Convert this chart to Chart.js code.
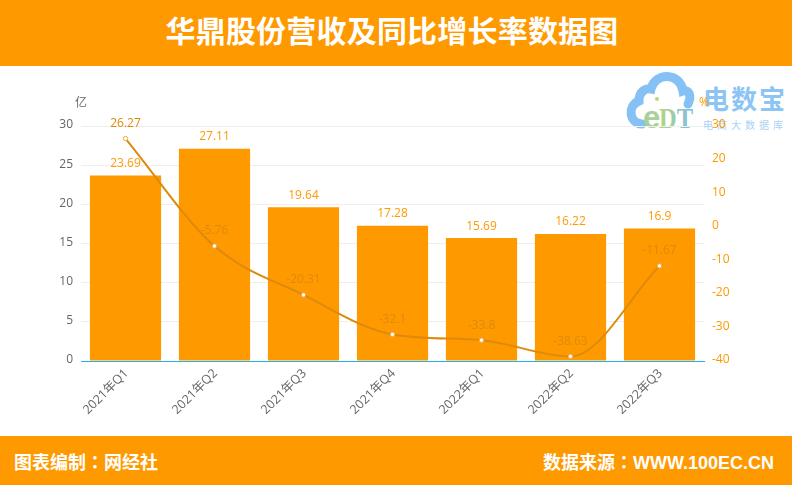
<!DOCTYPE html>
<html lang="zh-CN">
  <head>
    <meta charset="UTF-8" />
    <title>华鼎股份营收及同比增长率数据图</title>
    <script src="https://cdn.jsdelivr.net/npm/chart.js"></script>
    <style>
      html, body { margin: 0; padding: 0; background: #fff; }
      body { width: 792px; height: 485px; position: relative; overflow: hidden;
             font-family: "Liberation Sans", "Noto Sans CJK SC", sans-serif; }
      .band { position: absolute; left: 0; width: 792px; background: #ff9900; color: #fff; font-weight: bold; }
      #top { top: 0; height: 66px; line-height: 63px; font-size: 30px; letter-spacing: 0.2px; text-align: center; text-indent: -8px; }
      #bottom { top: 436px; height: 49px; line-height: 51px; font-size: 18px; }
      #bottom .l { position: absolute; left: 14px; }
      #bottom .r { position: absolute; right: 18px; }
      .colon { font-family: "Noto Sans CJK TC"; }
      #logo { position: absolute; left: 620px; top: 66px; }
      #wrap { position: absolute; left: 0; top: 0; width: 792px; height: 485px; }
    </style>
  </head>

  <body>
    <svg id="logo" width="172" height="70" viewBox="0 0 172 70">
      <defs>
        <linearGradient id="edt" x1="0" x2="1" y1="0" y2="0">
          <stop offset="0" stop-color="#b7d67c" />
          <stop offset="1" stop-color="#7fbce8" />
        </linearGradient>
      </defs>
      <path d="M22 58 C9 57 7 40 19 35 C19 25 26 22 31 23 C35 6 60 6 63 25 C69 23 72 30 68 38" fill="none" stroke="#85c1f5" stroke-width="9" stroke-linecap="round" />
      <circle cx="37" cy="33" r="2" fill="#b7d67c" />
      <text x="23" y="62" font-family="Liberation Sans" font-weight="bold" font-size="31" fill="#a9cf9a">e</text>
      <text x="39" y="62" font-family="Liberation Serif" font-weight="bold" font-size="29" textLength="34" lengthAdjust="spacingAndGlyphs" fill="url(#edt)">DT</text>
      <text x="83" y="43" font-family="Noto Sans CJK SC" font-weight="bold" font-size="26" letter-spacing="2" fill="#8cc4f5">电数宝</text>
      <text x="83" y="63" font-family="Noto Sans CJK SC" font-size="10" letter-spacing="4" fill="#a9d2f5">电商大数据库</text>
    </svg>

    <div id="wrap"><canvas id="myChart" width="792" height="485"></canvas></div>

    <div class="band" id="top">华鼎股份营收及同比增长率数据图</div>
    <div class="band" id="bottom">
      <span class="l">图表编制<span class="colon" lang="zh-TW">：</span>网经社</span>
      <span class="r">数据来源<span class="colon" lang="zh-TW">：</span>WWW.100EC.CN</span>
    </div>

    <script>
      const quarters = ["2021年Q1", "2021年Q2", "2021年Q3", "2021年Q4", "2022年Q1", "2022年Q2", "2022年Q3"];
      const revenue = [23.69, 27.11, 19.64, 17.28, 15.69, 16.22, 16.9];
      const growth = [26.27, -5.76, -20.31, -32.1, -33.8, -38.63, -11.67];

      const ORANGE = "#ff9900";
      const LINE_ORANGE = "#dd8a0c";
      const FONT = '"Open Sans", "Noto Sans CJK SC", sans-serif';

      // value labels and the two axis units
      const labelsPlugin = {
        id: "labels",
        afterDatasetsDraw(chart) {
          const ctx = chart.ctx;
          ctx.save();
          ctx.font = "12px " + FONT;
          ctx.textAlign = "center";
          ctx.textBaseline = "middle";

          ctx.fillStyle = ORANGE;
          chart.getDatasetMeta(1).data.forEach((bar, i) => {
            ctx.fillText(revenue[i], bar.x, bar.y - 12);
          });

          ctx.fillStyle = LINE_ORANGE;
          chart.getDatasetMeta(0).data.forEach((pt, i) => {
            ctx.fillText(growth[i], pt.x, pt.y - 15);
          });

          ctx.fillStyle = "#666";
          ctx.fillText("亿", chart.chartArea.left, chart.chartArea.top - 22);
          ctx.fillStyle = ORANGE;
          ctx.fillText("%", chart.chartArea.right, chart.chartArea.top - 23);
          ctx.restore();
        },
      };

      new Chart(document.getElementById("myChart").getContext("2d"), {
        type: "bar",
        data: {
          labels: quarters,
          datasets: [
            {
              type: "line",
              data: growth,
              yAxisID: "y2",
              borderColor: LINE_ORANGE,
              borderWidth: 2,
              cubicInterpolationMode: "monotone",
              pointRadius: 2.2,
              pointBorderWidth: 1,
              pointBackgroundColor: "#fff",
              pointBorderColor: "#f0a848",
              order: 1,
            },
            {
              data: revenue,
              yAxisID: "y",
              backgroundColor: ORANGE,
              categoryPercentage: 1,
              barPercentage: 0.8,
              order: 2,
            },
          ],
        },
        options: {
          responsive: false,
          animation: false,
          layout: { padding: { top: 126 } },
          plugins: { legend: { display: false }, tooltip: { enabled: false } },
          scales: {
            x: {
              afterFit: (axis) => { axis.height = 124; },
              grid: { display: false, drawTicks: false },
              border: { display: true, color: "#22b2e4", width: 1, z: 1 },
              ticks: {
                color: "#666",
                font: { size: 12.5, family: FONT },
                maxRotation: 45,
                minRotation: 45,
                padding: 5,
                labelOffset: 1,
                autoSkip: false,
              },
            },
            y: {
              position: "left",
              min: 0,
              max: 30,
              afterFit: (axis) => { axis.width = 81; },
              border: { display: false },
              grid: { color: "#eeeeee", drawTicks: false },
              ticks: { stepSize: 5, color: "#666", padding: 8, labelOffset: -1, font: { size: 12, family: FONT } },
            },
            y2: {
              position: "right",
              min: -40,
              max: 30,
              afterFit: (axis) => { axis.width = 88; },
              border: { display: false },
              grid: { display: false, drawTicks: false },
              ticks: { stepSize: 10, color: ORANGE, padding: 8, labelOffset: -1, font: { size: 12, family: FONT } },
            },
          },
        },
        plugins: [labelsPlugin],
      });
    </script>
  </body>
</html>
